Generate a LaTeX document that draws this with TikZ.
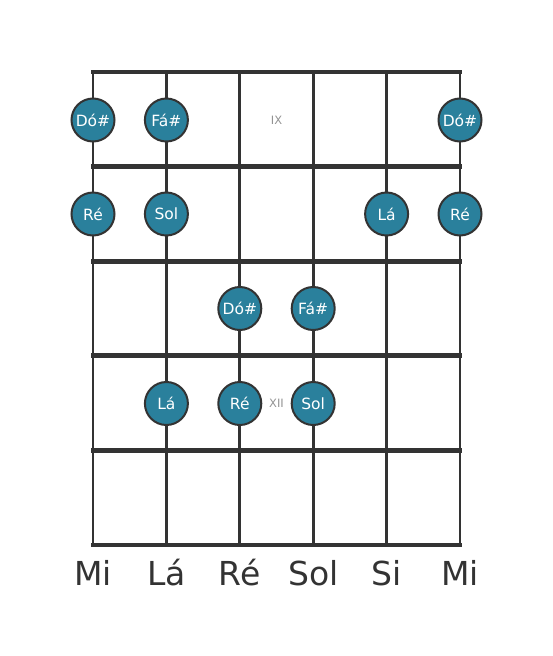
\documentclass[tikz,border=0pt]{standalone}
\usepackage{fontspec}
\setmainfont{DejaVu Sans}
\definecolor{dotfill}{HTML}{2A809C}
\definecolor{ink}{HTML}{333333}
\begin{document}
\begin{tikzpicture}[x=1pt,y=-1pt,
  fretline/.style={draw=ink,line width=4.8pt},
  stringline/.style={draw=ink,line width=2.8pt},
  notedot/.style={circle,draw=ink,line width=2pt,fill=dotfill,minimum size=43pt,inner sep=0pt,text=white,font=\fontsize{15.5}{15.5}\selectfont},
  fretnum/.style={text=gray!85,font=\fontsize{11.5}{11.5}\selectfont,inner sep=0pt},
  strname/.style={text=ink,font=\fontsize{33}{33}\selectfont,inner sep=0pt}]
\useasboundingbox (0,0) rectangle (553,656);
% strings
\foreach \i/\x in {1/93,2/166.4,3/239.8,4/313.2,5/386.6,6/460}{
  \coordinate (s\i t) at (\x,72);
  \coordinate (s\i b) at (\x,545);
  \draw[stringline] (s\i t) -- (s\i b);
}
% frets
\foreach \j/\y in {0/72,1/166.6,2/261.2,3/355.8,4/450.4,5/545}{
  \coordinate (f\j l) at (93,\y);
  \coordinate (f\j r) at (460,\y);
  \draw[fretline,line cap=rect] (f\j l) -- (f\j r);
}
% fret markers
\node[fretnum] (ix) at (276.5,120) {IX};
\node[fretnum] (xii) at (276.5,403.5) {XII};
% notes
\node[notedot] (n11) at (93,120) {Dó\#};
\node[notedot] (n12) at (166.4,120) {Fá\#};
\node[notedot] (n16) at (460,120) {Dó\#};
\node[notedot] (n21) at (93,214) {Ré};
\node[notedot] (n22) at (166.4,214) {Sol};
\node[notedot] (n25) at (386.6,214) {Lá};
\node[notedot] (n26) at (460,214) {Ré};
\node[notedot] (n33) at (239.8,308.5) {Dó\#};
\node[notedot] (n34) at (313.2,308.5) {Fá\#};
\node[notedot] (n42) at (166.4,403.5) {Lá};
\node[notedot] (n43) at (239.8,403.5) {Ré};
\node[notedot] (n44) at (313.2,403.5) {Sol};
% string names
\foreach \i/\x/\t in {1/93/Mi,2/166.4/Lá,3/239.8/Ré,4/313.2/Sol,5/386.6/Si,6/460/Mi}{
  \node[strname,anchor=base] (name\i) at (\x,585) {\t};
}
\end{tikzpicture}
\end{document}
